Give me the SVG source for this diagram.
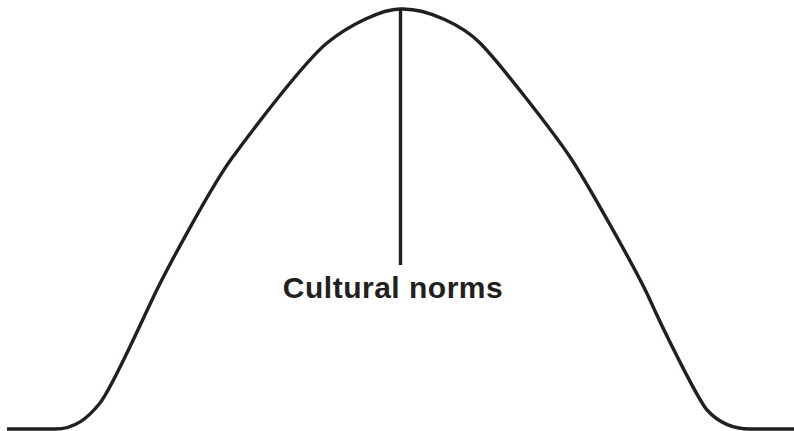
<svg xmlns="http://www.w3.org/2000/svg" width="794" height="431" viewBox="0 0 794 431">
<style>
.ln{fill:none;stroke:#231f20;stroke-width:3.4;stroke-linecap:butt;stroke-linejoin:round}
.lbl{font-family:"Liberation Sans",Arial,sans-serif;font-weight:bold;font-size:30px;fill:#231f20;letter-spacing:0.5px}
</style>
<rect width="794" height="431" fill="#ffffff"/>
<g id="connectors">
<path id="curve" class="ln" d="M7,429 L55,429 C75,429 88,418 100,403 C112,388 140,325 152,300 C164,274 212,185 232,158 C254,128 305,61 327,43 C349,25 382,9 400,9 L403,9 C428,9 462,25 480,43 C498,61 554,133 570,157 C586,181 638,273 650,300 C662,327 697,398 707,410 C718,422 732,429 750,429 L794,429"/>
<line id="stem" class="ln" x1="400.5" y1="10" x2="400.5" y2="265"/>
</g>
<g id="label">
<text class="lbl" x="393" y="298" text-anchor="middle">Cultural norms</text>
</g>
</svg>
